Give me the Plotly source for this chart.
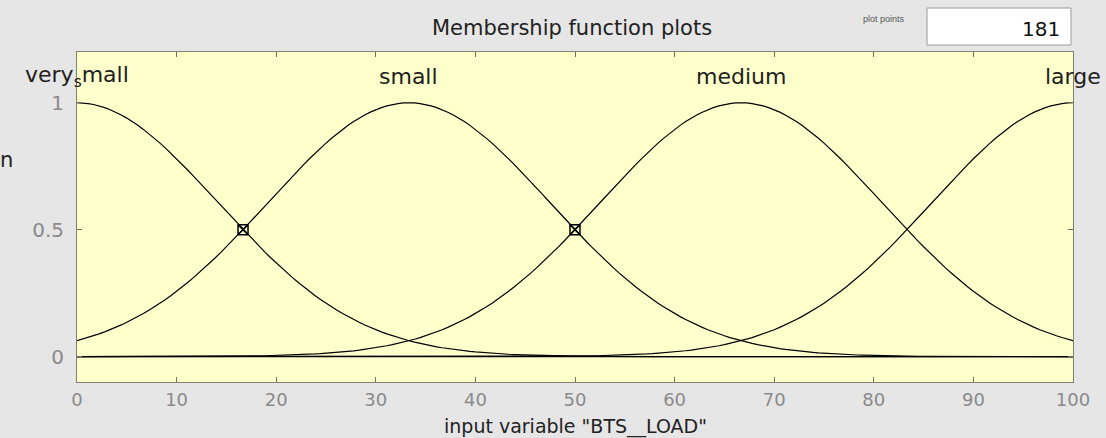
import numpy as np
import plotly.graph_objects as go

# Membership functions of the input variable (Gaussian: centre, sigma)
mf_names = ["very<sub>s</sub>mall", "small", "medium", "large"]
mf_centers = [0.0, 33.33, 66.67, 100.0]
mf_sigmas = [14.16, 14.16, 14.16, 14.16]
plot_points = 181
x_range = [0, 100]
x_ticks = [0, 10, 20, 30, 40, 50, 60, 70, 80, 90, 100]
y_ticks = [0, 0.5, 1]
y_tick_labels = ["0", "0.5", "1"]
# handle points of the selected function ("small")
handle_x = [16.67, 50.0]
handle_y = [0.5, 0.5]

W, H = 1106, 438
L, R, T, B = 77, 33, 52, 56
FONT = "DejaVu Sans, Verdana, sans-serif"


def px(xp):
    return (xp - L) / (W - L - R)


def py(yp):
    return (H - B - yp) / (H - T - B)


x = np.linspace(x_range[0], x_range[1], plot_points)
fig = go.Figure()

# zero baseline
fig.add_trace(go.Scatter(x=x_range, y=[0, 0], mode="lines",
                         line=dict(color="black", width=1.2),
                         hoverinfo="skip", showlegend=False))

for name, c, s in zip(mf_names, mf_centers, mf_sigmas):
    y = np.exp(-((x - c) ** 2) / (2 * s ** 2))
    fig.add_trace(go.Scatter(x=x, y=y, mode="lines", name=name,
                             line=dict(color="black", width=1.2),
                             showlegend=False))
    fig.add_annotation(x=c, y=1.105, text=name, showarrow=False,
                       xanchor="center", yanchor="middle",
                       font=dict(family=FONT, size=22, color="#1e1e1e"))

fig.add_trace(go.Scatter(x=handle_x, y=handle_y, mode="markers",
                         marker=dict(symbol="square-x-open", size=10,
                                     color="black", line=dict(width=1.5)),
                         showlegend=False))

# panel title
fig.add_annotation(xref="paper", yref="paper", x=px(572), y=py(28),
                   text="Membership function plots", showarrow=False,
                   xanchor="center", yanchor="middle",
                   font=dict(family=FONT, size=21, color="#222222"))
fig.add_annotation(xref="paper", yref="paper", x=px(907), y=py(19),
                   text="plot points", showarrow=False,
                   xanchor="right", yanchor="middle",
                   font=dict(family="Liberation Sans, Arial", size=9,
                             color="#555555"))
fig.add_shape(type="rect", xref="paper", yref="paper",
              x0=px(927), x1=px(1071), y0=py(45), y1=py(8),
              fillcolor="white", line=dict(color="#9a9a9a", width=1))
fig.add_annotation(xref="paper", yref="paper", x=px(1062), y=py(29),
                   text=str(plot_points), showarrow=False,
                   xanchor="right", yanchor="middle",
                   font=dict(family=FONT, size=20, color="#111111"))
fig.add_annotation(xref="paper", yref="paper", x=px(6), y=py(160),
                   text="n", showarrow=False,
                   xanchor="center", yanchor="middle",
                   font=dict(family=FONT, size=21, color="#222222"))
# x-axis caption
fig.add_annotation(xref="paper", yref="paper", x=px(575), y=py(426),
                   text='input variable "BTS__LOAD"', showarrow=False,
                   xanchor="center", yanchor="middle",
                   font=dict(family=FONT, size=19, color="#222222"))

fig.update_xaxes(range=x_range, tickvals=x_ticks, ticks="inside", ticklen=5,
                 tickcolor="#707060", showline=True, linecolor="#808070",
                 linewidth=1, mirror="ticks", showgrid=False, zeroline=False,
                 tickfont=dict(family=FONT, size=18, color="#8a8a8a"),
                 ticklabelstandoff=1)
fig.update_yaxes(range=[-0.1, 1.2], tickvals=y_ticks, ticktext=y_tick_labels,
                 ticks="inside", ticklen=5, tickcolor="#707060",
                 showline=True, linecolor="#808070", linewidth=1,
                 mirror="ticks", showgrid=False, zeroline=False,
                 tickfont=dict(family=FONT, size=20, color="#8a8a8a"),
                 ticklabelstandoff=8)

fig.update_layout(width=W, height=H,
                  margin=dict(l=L, r=R, t=T, b=B),
                  paper_bgcolor="#e6e6e6", plot_bgcolor="#ffffcc",
                  showlegend=False)

fig.write_html("out.html")
